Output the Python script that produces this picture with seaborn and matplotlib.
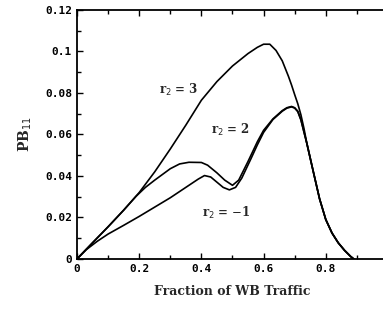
import pandas as pd
import matplotlib.pyplot as plt
import seaborn as sns
from matplotlib.ticker import MultipleLocator

# values
x_r3 = [0, 0.05, 0.1, 0.15, 0.2, 0.25, 0.3, 0.35, 0.4, 0.45, 0.5, 0.55, 0.58,
        0.6, 0.62, 0.64, 0.66, 0.68, 0.69, 0.7, 0.71, 0.72, 0.73, 0.74, 0.76,
        0.78, 0.8, 0.82, 0.84, 0.86, 0.88, 0.89]
y_r3 = [0, 0.0078, 0.0155, 0.0235, 0.032, 0.042, 0.053, 0.0645, 0.0765,
        0.0855, 0.093, 0.099, 0.102, 0.1035, 0.1035, 0.1005, 0.0955, 0.088,
        0.0838, 0.0792, 0.0748, 0.0695, 0.0628, 0.055, 0.042, 0.029, 0.019,
        0.0125, 0.0078, 0.0042, 0.0012, 0]

x_r2 = [0, 0.05, 0.1, 0.15, 0.19, 0.22, 0.25, 0.3, 0.33, 0.36, 0.4, 0.42,
        0.45, 0.475, 0.5, 0.52, 0.55, 0.58, 0.6, 0.63, 0.66, 0.675, 0.69,
        0.7, 0.71, 0.72, 0.73, 0.74, 0.76, 0.78, 0.8, 0.82, 0.84, 0.86, 0.88,
        0.89]
y_r2 = [0, 0.0078, 0.0155, 0.0235, 0.0302, 0.0345, 0.038, 0.0435, 0.0458,
        0.0466, 0.0465, 0.0452, 0.0415, 0.038, 0.0355, 0.038, 0.047, 0.0565,
        0.062, 0.0675, 0.0715, 0.0729, 0.0735, 0.0729, 0.0712, 0.0672,
        0.0612, 0.0552, 0.042, 0.029, 0.019, 0.0125, 0.0078, 0.0042, 0.0012, 0]

x_rm1 = [0, 0.03, 0.065, 0.1, 0.15, 0.2, 0.25, 0.3, 0.35, 0.39, 0.41, 0.43,
         0.45, 0.47, 0.49, 0.51, 0.53, 0.56, 0.58, 0.6, 0.63, 0.66, 0.675,
         0.69, 0.7, 0.71, 0.72, 0.73, 0.74, 0.76, 0.78, 0.8, 0.82, 0.84, 0.86,
         0.88, 0.89]
y_rm1 = [0, 0.0045, 0.0085, 0.012, 0.0162, 0.0205, 0.025, 0.0295, 0.0345,
         0.0385, 0.0402, 0.0395, 0.037, 0.0345, 0.0333, 0.0345, 0.039, 0.0485,
         0.055, 0.061, 0.0672, 0.0712, 0.0727, 0.0733, 0.0727, 0.071, 0.067,
         0.061, 0.0552, 0.042, 0.029, 0.019, 0.0125, 0.0078, 0.0042, 0.0012, 0]

labels = ["r$_2$ = 3", "r$_2$ = 2", "r$_2$ = $-$1"]
label_x = [0.326, 0.494, 0.48]
label_y = [0.0814, 0.0622, 0.0222]

x_ticks = [0, 0.2, 0.4, 0.6, 0.8]
x_tick_labels = ["0", "0.2", "0.4", "0.6", "0.8"]
y_ticks = [0, 0.02, 0.04, 0.06, 0.08, 0.1, 0.12]
y_tick_labels = ["0", "0.02", "0.04", "0.06", "0.08", "0.1", "0.12"]

df = pd.concat([
    pd.DataFrame({"x": x_r3, "y": y_r3, "curve": "r3"}),
    pd.DataFrame({"x": x_r2, "y": y_r2, "curve": "r2"}),
    pd.DataFrame({"x": x_rm1, "y": y_rm1, "curve": "rm1"}),
])

sns.set_style("ticks")
fig = plt.figure(figsize=(3.83, 3.12), dpi=100)
ax = fig.add_axes([0.201, 0.170, 0.812, 0.798])

sns.lineplot(data=df, x="x", y="y", hue="curve", units="curve",
             estimator=None, sort=False, palette=["black"] * 3,
             linewidth=1.2, legend=False, ax=ax)

for lab, lx, ly in zip(labels, label_x, label_y):
    ax.text(lx, ly, lab, ha="center", va="center", fontsize=8.5,
            family="DejaVu Serif", fontweight="bold")

ax.set_xlim(0, 1)
ax.set_ylim(0, 0.12)
ax.set_xticks(x_ticks)
ax.set_xticklabels(x_tick_labels)
ax.set_yticks(y_ticks)
ax.set_yticklabels(y_tick_labels)
ax.xaxis.set_minor_locator(MultipleLocator(0.1))
ax.yaxis.set_minor_locator(MultipleLocator(0.01))
ax.tick_params(which="both", direction="in", top=True, right=False,
               width=1, colors="black")
ax.tick_params(which="major", length=4)
ax.tick_params(which="minor", length=3)
for lab in ax.get_xticklabels() + ax.get_yticklabels():
    lab.set_family("DejaVu Sans Mono")
    lab.set_fontweight("bold")
    lab.set_fontsize(8)
for sp in ax.spines.values():
    sp.set_linewidth(1.3)
    sp.set_color("black")

ax.set_xlabel("Fraction of WB Traffic", fontsize=9, family="DejaVu Serif",
              fontweight="bold", labelpad=8)
ax.set_ylabel("PB$_{11}$", fontsize=10, family="DejaVu Serif",
              fontweight="bold", labelpad=8)

fig.savefig("out.png", dpi=100)
